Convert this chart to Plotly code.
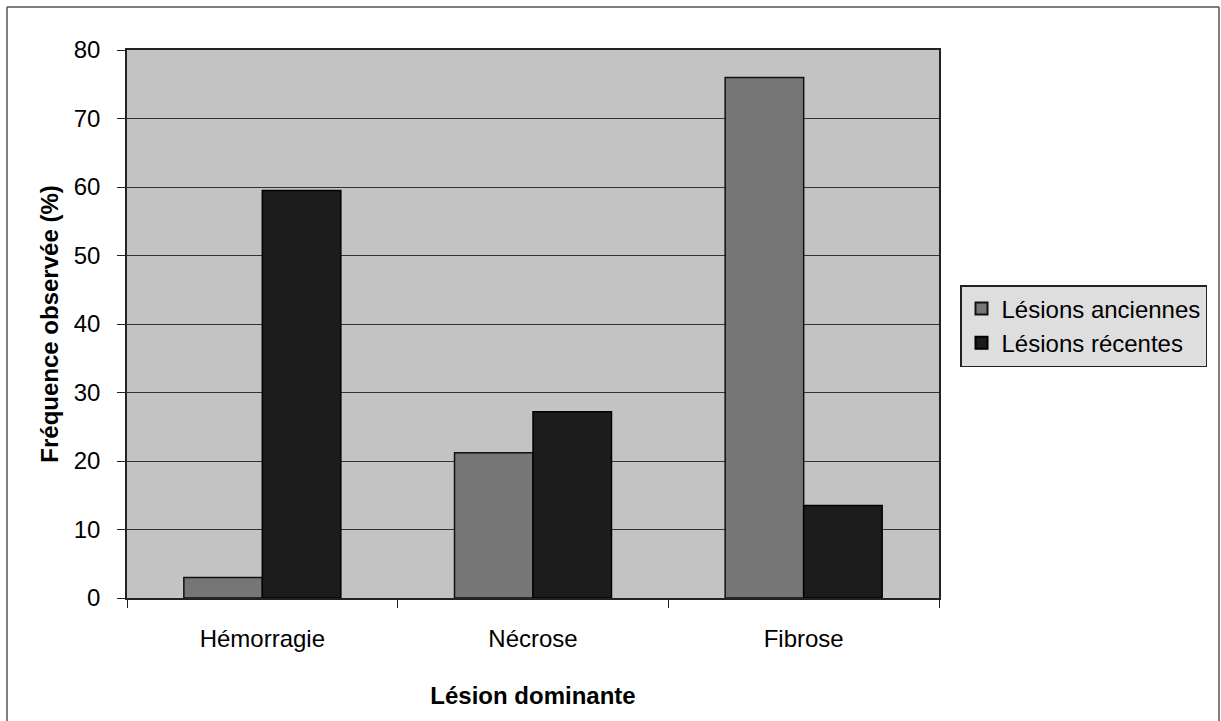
import plotly.graph_objects as go

# Lesion categories and observed frequencies (%)
categories = ["Hémorragie", "Nécrose", "Fibrose"]
lesions_anciennes = [3.0, 21.2, 76.0]
lesions_recentes = [59.5, 27.2, 13.5]
y_ticks = [0, 10, 20, 30, 40, 50, 60, 70, 80]

FONT = "Liberation Sans, Arial, sans-serif"

fig = go.Figure()
fig.add_trace(go.Bar(
    x=categories, y=lesions_anciennes, name="Lésions anciennes",
    marker=dict(color="#767676", line=dict(color="#111111", width=1.5)),
))
fig.add_trace(go.Bar(
    x=categories, y=lesions_recentes, name="Lésions récentes",
    marker=dict(color="#1c1c1c", line=dict(color="#000000", width=1.5)),
))

W, H = 1221, 721
L, R, T, B = 127, 282, 50, 123
pw, ph = W - L - R, H - T - B


def px_to_paper_x(px):
    return (px - L) / pw


def px_to_paper_y(py):
    return (H - B - py) / ph


# Outer chart frame
frame = dict(color="#555555", width=1.5)
x0, x1 = px_to_paper_x(7), px_to_paper_x(1219)
y0, y1 = px_to_paper_y(725), px_to_paper_y(7)
shapes = [
    dict(type="line", xref="paper", yref="paper", x0=x0, x1=x0, y0=y0, y1=y1, line=frame),
    dict(type="line", xref="paper", yref="paper", x0=x0, x1=x1, y0=y1, y1=y1, line=frame),
    dict(type="line", xref="paper", yref="paper", x0=x1, x1=x1, y0=y0, y1=y1, line=frame),
]

fig.update_layout(
    width=W, height=H,
    margin=dict(l=L, r=R, t=T, b=B),
    paper_bgcolor="white",
    plot_bgcolor="#c3c3c3",
    barmode="group",
    bargap=0.42,
    bargroupgap=0,
    font=dict(family=FONT, size=24, color="#000000"),
    shapes=shapes,
    legend=dict(
        x=px_to_paper_x(960), y=px_to_paper_y(285),
        xanchor="left", yanchor="top",
        bgcolor="#dedede", bordercolor="#222222", borderwidth=1.5,
        font=dict(family=FONT, size=24, color="#000000"),
        tracegroupgap=0, itemsizing="constant",
    ),
    showlegend=True,
)

fig.update_xaxes(
    type="category",
    showline=True, linecolor="#222222", linewidth=1.5, mirror=True,
    ticks="outside", tickson="boundaries", ticklen=8, tickcolor="#222222",
    ticklabelstandoff=18,
    tickfont=dict(family=FONT, size=24),
    title=dict(text="<b>Lésion dominante</b>", font=dict(family=FONT, size=24), standoff=37),
    showgrid=False,
)
fig.update_yaxes(
    range=[0, 80], tickvals=y_ticks,
    showline=True, linecolor="#222222", linewidth=1.5, mirror=True,
    ticks="outside", ticklen=8, tickcolor="#222222",
    ticklabelstandoff=12,
    tickfont=dict(family=FONT, size=24),
    showgrid=True, gridcolor="#333333", gridwidth=1.3,
    zeroline=False,
    title=dict(text="<b>Fréquence observée (%)</b>", font=dict(family=FONT, size=24), standoff=8),
)

fig.write_html("out.html")
